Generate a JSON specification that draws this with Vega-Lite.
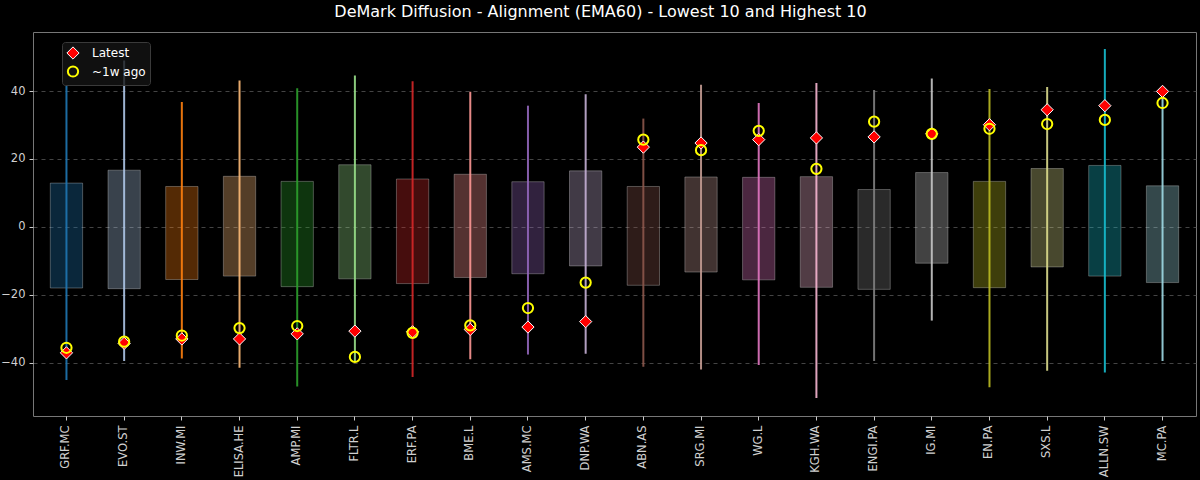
{
  "$schema": "https://vega.github.io/schema/vega-lite/v6.json",
  "autosize": {"type": "none"},
  "width": 1163,
  "height": 384,
  "padding": {"left": 33, "top": 32, "right": 4, "bottom": 64},
  "background": "#000000",
  "config": {
    "font": "DejaVu Sans",
    "view": {"stroke": "#777777", "strokeWidth": 1, "fill": "#000000"},
    "axis": {"domain": false, "labelColor": "#d0d0d0", "labelFontSize": 11.5, "tickColor": "#cccccc", "tickSize": 4, "titleColor": "#d0d0d0"}
  },
  "title": {"text": "DeMark Diffusion - Alignment (EMA60) - Lowest 10 and Highest 10", "color": "#ffffff", "fontSize": 16, "fontWeight": "normal", "anchor": "middle", "dx": -14, "offset": 12},
  "data": {"values": [
    {"ticker": "GRF.MC", "q1": -18.0, "q3": 12.9, "lo": -45.1, "hi": 41.6, "latest": -37.1, "prev": -35.6},
    {"ticker": "EVO.ST", "q1": -18.2, "q3": 16.7, "lo": -39.5, "hi": 49.0, "latest": -34.3, "prev": -33.8},
    {"ticker": "INW.MI", "q1": -15.5, "q3": 11.9, "lo": -38.8, "hi": 36.8, "latest": -33.0, "prev": -32.0},
    {"ticker": "ELISA.HE", "q1": -14.5, "q3": 14.9, "lo": -41.5, "hi": 43.1, "latest": -33.0, "prev": -29.8},
    {"ticker": "AMP.MI", "q1": -17.6, "q3": 13.4, "lo": -47.0, "hi": 40.8, "latest": -31.5, "prev": -29.2},
    {"ticker": "FLTR.L", "q1": -15.3, "q3": 18.3, "lo": -39.5, "hi": 44.6, "latest": -30.7, "prev": -38.3},
    {"ticker": "ERF.PA", "q1": -16.7, "q3": 14.1, "lo": -44.2, "hi": 42.9, "latest": -30.9, "prev": -31.2},
    {"ticker": "BME.L", "q1": -14.9, "q3": 15.5, "lo": -39.0, "hi": 39.8, "latest": -30.2, "prev": -29.0},
    {"ticker": "AMS.MC", "q1": -13.8, "q3": 13.3, "lo": -37.6, "hi": 35.7, "latest": -29.5, "prev": -23.9},
    {"ticker": "DNP.WA", "q1": -11.5, "q3": 16.5, "lo": -37.4, "hi": 39.1, "latest": -27.9, "prev": -16.4},
    {"ticker": "ABN.AS", "q1": -17.2, "q3": 11.9, "lo": -41.2, "hi": 31.9, "latest": 23.5, "prev": 25.7},
    {"ticker": "SRG.MI", "q1": -13.3, "q3": 14.7, "lo": -42.0, "hi": 41.9, "latest": 24.7, "prev": 22.6},
    {"ticker": "WG.L", "q1": -15.6, "q3": 14.6, "lo": -40.7, "hi": 36.5, "latest": 25.7, "prev": 28.3},
    {"ticker": "KGH.WA", "q1": -17.8, "q3": 14.8, "lo": -50.4, "hi": 42.4, "latest": 26.2, "prev": 17.1},
    {"ticker": "ENGI.PA", "q1": -18.4, "q3": 11.0, "lo": -39.5, "hi": 40.3, "latest": 26.5, "prev": 31.0},
    {"ticker": "IG.MI", "q1": -10.7, "q3": 16.0, "lo": -27.6, "hi": 43.7, "latest": 27.4, "prev": 27.4},
    {"ticker": "EN.PA", "q1": -17.9, "q3": 13.4, "lo": -47.2, "hi": 40.6, "latest": 30.1, "prev": 28.9},
    {"ticker": "SXS.L", "q1": -11.8, "q3": 17.2, "lo": -42.4, "hi": 41.2, "latest": 34.5, "prev": 30.3},
    {"ticker": "ALLN.SW", "q1": -14.5, "q3": 18.1, "lo": -42.9, "hi": 52.4, "latest": 35.7, "prev": 31.5},
    {"ticker": "MC.PA", "q1": -16.4, "q3": 12.1, "lo": -39.5, "hi": 38.0, "latest": 39.9, "prev": 36.5}
  ]},
  "encoding": {
    "x": {"field": "ticker", "type": "nominal", "sort": null, "title": null,
      "scale": {"paddingInner": 0, "paddingOuter": 0.08},
      "axis": {"labelAngle": 270, "labelPadding": 5, "grid": false}}
  },
  "layer": [
    {
      "mark": {"type": "bar", "width": {"band": 0.56}, "fillOpacity": 0.33, "stroke": "#ffffff", "strokeOpacity": 0.28, "strokeWidth": 1},
      "encoding": {
        "y": {"field": "q1", "type": "quantitative", "title": null,
          "scale": {"domain": [-55.7, 57.4], "nice": false, "zero": false},
          "axis": {"values": [-40, -20, 0, 20, 40], "grid": true, "gridColor": "#555555", "gridDash": [4, 4], "gridWidth": 0.8, "labelPadding": 4}},
        "y2": {"field": "q3"},
        "color": {"field": "ticker", "type": "nominal", "sort": null, "legend": null,
          "scale": {"range": ["#1f77b4", "#aec7e8", "#ff7f0e", "#ffbb78", "#2ca02c", "#98df8a", "#d62728", "#ff9896", "#9467bd", "#c5b0d5", "#8c564b", "#c49c94", "#e377c2", "#f7b6d2", "#7f7f7f", "#c7c7c7", "#bcbd22", "#dbdb8d", "#17becf", "#9edae5"]}}
      }
    },
    {
      "mark": {"type": "rule", "strokeWidth": 2, "opacity": 0.9},
      "encoding": {
        "y": {"field": "lo", "type": "quantitative"},
        "y2": {"field": "hi"},
        "color": {"field": "ticker", "type": "nominal", "sort": null, "legend": null}
      }
    },
    {
      "transform": [{"fold": ["latest", "prev"], "as": ["series", "value"]}],
      "mark": {"type": "point", "opacity": 1, "filled": false},
      "encoding": {
        "y": {"field": "value", "type": "quantitative"},
        "shape": {"field": "series", "type": "nominal", "title": null,
          "scale": {"domain": ["latest", "prev"], "range": ["diamond", "circle"]},
          "legend": {"orient": "none", "legendX": 29, "legendY": 10, "labelExpr": "datum.label == 'latest' ? 'Latest' : '~1w ago'",
            "labelColor": "#ffffff", "labelFontSize": 12, "fillColor": "rgba(20,20,20,0.8)", "strokeColor": "#3a3a3a", "cornerRadius": 3, "padding": 4, "rowPadding": 0, "labelOffset": 12}},
        "fill": {"field": "series", "type": "nominal", "title": null,
          "scale": {"domain": ["latest", "prev"], "range": ["#ff0000", "transparent"]}},
        "stroke": {"field": "series", "type": "nominal", "title": null,
          "scale": {"domain": ["latest", "prev"], "range": ["#ffffff", "#ffff00"]}},
        "size": {"field": "series", "type": "nominal", "title": null,
          "scale": {"domain": ["latest", "prev"], "range": [150, 105]}},
        "strokeWidth": {"field": "series", "type": "nominal", "title": null,
          "scale": {"domain": ["latest", "prev"], "range": [1, 2]}}
      }
    }
  ]
}
